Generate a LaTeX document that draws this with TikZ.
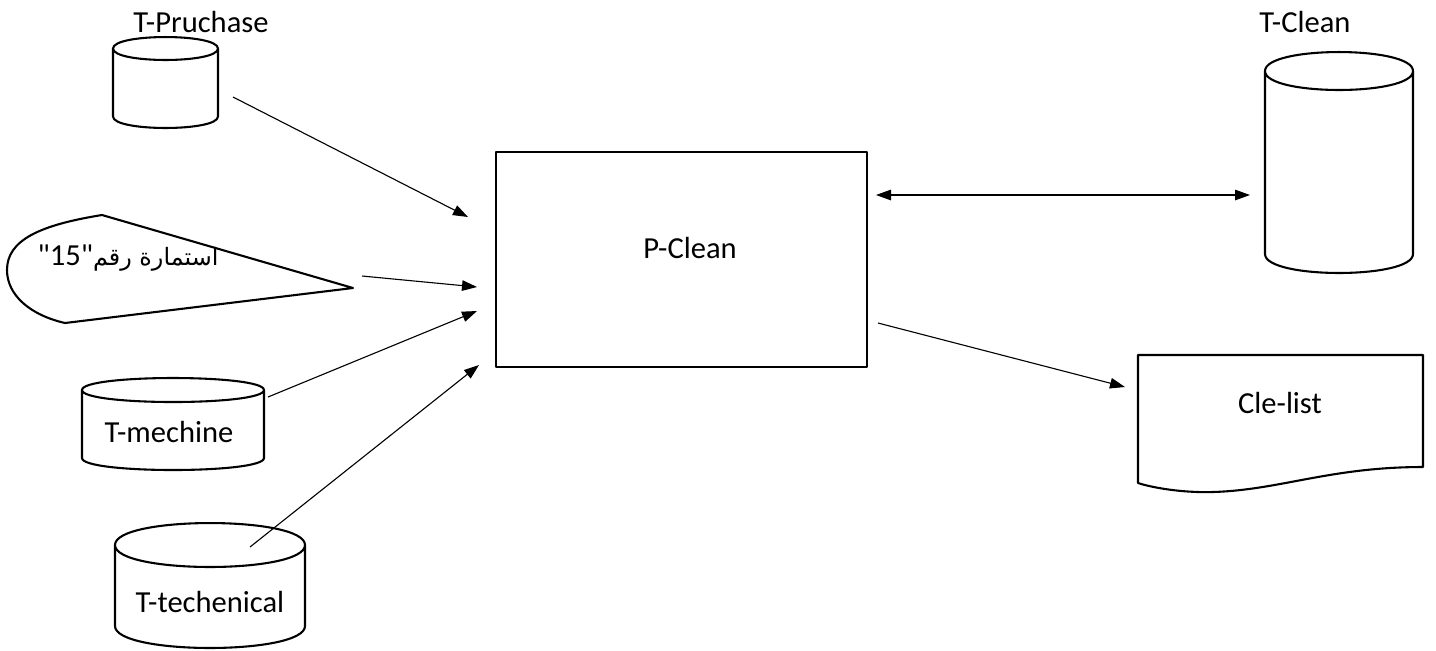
\documentclass[tikz,border=0pt]{standalone}
\usepackage{fontspec}
\setmainfont{Carlito}
\newfontfamily\latinplain{Carlito}
\newfontfamily\arabicfont[Script=Arabic]{DejaVu Sans}
\TeXXeTstate=1
\usetikzlibrary{arrows.meta}
\begin{document}
\begin{tikzpicture}[x=0.36pt,y=-0.36pt,
  outline/.style={line width=0.75pt, line join=round},
  conn/.style={line width=0.4pt,-{Triangle[length=5.4pt,width=3.8pt]}},
  biconn/.style={line width=0.4pt,{Triangle[length=5.4pt,width=3.8pt]}-{Triangle[length=5.4pt,width=3.8pt]}},
  lbl/.style={font=\fontsize{11}{13}\selectfont, inner sep=0pt}]
\useasboundingbox (0,0) rectangle (1436,650);
% T-Pruchase cylinder
\draw[outline] (113,48.5) .. controls (113,33.2) and (218,33.2) .. (218,48.5) .. controls (218,63.8) and (113,63.8) .. (113,48.5) -- (113,116.5) .. controls (113,131.8) and (218,131.8) .. (218,116.5) -- (218,48.5);
\node[lbl] (tpl) at (201,22) {T-Pruchase};
% T-Clean cylinder
\draw[outline] (1265,71) .. controls (1265,45.7) and (1413,45.7) .. (1413,71) .. controls (1413,96.3) and (1265,96.3) .. (1265,71) -- (1265,254) .. controls (1265,279.3) and (1413,279.3) .. (1413,254) -- (1413,71);
\node[lbl] (tcl) at (1305,22) {T-Clean};
% T-mechine cylinder
\draw[outline] (82,390) .. controls (82,374) and (264,374) .. (264,390) .. controls (264,406) and (82,406) .. (82,390) -- (82,458) .. controls (82,474) and (264,474) .. (264,458) -- (264,390);
\node[lbl] (tm) at (169,432) {T-mechine};
% T-techenical cylinder
\draw[outline] (115,545) .. controls (115,515.7) and (305,515.7) .. (305,545) .. controls (305,574.3) and (115,574.3) .. (115,545) -- (115,626) .. controls (115,655.3) and (305,655.3) .. (305,626) -- (305,545);
\node[lbl] (tt) at (210,602) {T-techenical};
% teardrop (form)
\draw[outline] (102,215) -- (353,288) -- (65,323) .. controls (30,315) and (7,295) .. (7,270) .. controls (7,240) and (40,225) .. (102,215) -- cycle;
\node[lbl] (form) at (128,258) {\arabicfont\fontsize{8.6}{12}\selectfont\beginR استمارة رقم\beginL\latinplain\fontsize{11}{13}\selectfont"15"\endL\endR};
% P-Clean process
\node[draw, outline, minimum width=133.6pt, minimum height=77.4pt, inner sep=0pt] (pc) at (681.5,259.5) {};
\node[lbl] (pcl) at (690,248) {P-Clean};
% Cle-list document
\draw[outline] (1138,355) -- (1423,355) -- (1423,467) .. controls (1330,467) and (1280,490) .. (1213,492) .. controls (1180,493) and (1150,487) .. (1138,483) -- cycle;
\node[lbl] (cle) at (1280,403) {Cle-list};
% connector end points
\coordinate (a1) at (233,97);   \coordinate (b1) at (468,217);
\coordinate (a2) at (362,276);  \coordinate (b2) at (477,287);
\coordinate (a3) at (268,397);  \coordinate (b3) at (477,311);
\coordinate (a4) at (250,547);  \coordinate (b4) at (479,365);
\coordinate (a5) at (876,195);  \coordinate (b5) at (1250,195);
\coordinate (a6) at (878,323);  \coordinate (b6) at (1125,387);
\draw[conn] (a1) -- (b1);
\draw[conn] (a2) -- (b2);
\draw[conn] (a3) -- (b3);
\draw[conn] (a4) -- (b4);
\draw[biconn] (a5) -- (b5);
\draw[conn] (a6) -- (b6);
\end{tikzpicture}
\end{document}
